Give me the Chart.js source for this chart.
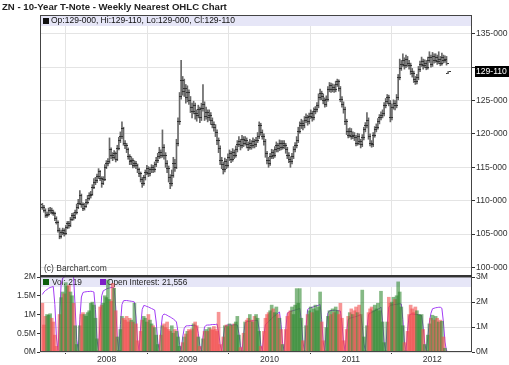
<!DOCTYPE html>
<html lang="en">
<head>
<meta charset="UTF-8">
<title>ZN - 10-Year T-Note - Weekly Nearest OHLC Chart</title>
<script src="https://cdn.jsdelivr.net/npm/chart.js@4.4.0/dist/chart.umd.min.js"></script>
<style>
  body { margin: 0; background: #fff; font-family: 'Liberation Sans', Arial, sans-serif; }
  #wrap { position: relative; width: 509px; height: 365px; overflow: hidden; }
  #title { position: absolute; left: 2px; top: 1px; font-size: 9.6px; font-weight: bold; color: #222; white-space: nowrap; }
  #priceChart { position: absolute; left: 0; top: 0; }
  #volChart { position: absolute; left: 0; top: 266px; }
</style>
</head>
<body>
<div id="wrap">
  <canvas id="priceChart" width="509" height="280"></canvas>
  <canvas id="volChart" width="509" height="99"></canvas>
  <div id="title">ZN - 10-Year T-Note - Weekly Nearest OHLC Chart</div>
</div>
<script>
// weekly bars, first one is the week of 2007-03-19
const FIRST_WEEK = '2007-03-19';
const yearTicks = [2008, 2009, 2010, 2011, 2012];
const priceTicks = [100, 105, 110, 115, 120, 125, 130, 135];
const volTicks = [0, 0.5, 1, 1.5, 2];   // millions, left axis
const oiTicks = [0, 1, 2, 3];           // millions, right axis

const opens = [
  109.4,109.0,108.6,107.8,107.9,108.5,108.6,108.3,108.1,107.3,
  106.8,105.6,104.7,105.2,105.6,105.1,106.0,106.6,106.3,107.2,
  107.8,107.5,108.2,109.0,109.6,110.8,109.4,108.8,109.2,109.8,
  110.4,110.8,111.0,112.0,112.8,113.0,113.6,114.3,113.3,112.6,
  113.2,115.0,115.5,115.8,117.6,116.8,116.5,117.0,116.2,117.8,
  119.0,119.6,120.8,118.6,118.2,117.6,116.6,115.8,116.0,115.3,
  115.6,115.2,114.6,114.0,113.2,112.6,113.4,114.2,114.8,114.0,
  114.6,115.0,114.6,115.4,116.0,116.6,117.2,116.8,118.0,116.8,
  115.6,114.8,113.4,112.6,113.8,115.6,115.0,118.6,121.8,125.6,
  128.0,126.4,126.8,125.4,126.2,125.0,124.0,123.4,124.2,123.0,
  122.8,123.6,122.4,123.8,124.4,122.6,123.2,122.4,122.8,122.0,
  121.4,121.0,120.2,119.0,117.8,116.0,115.4,114.6,115.8,115.2,
  116.4,117.0,116.2,117.2,116.8,117.6,118.4,118.8,118.2,119.2,
  118.6,119.0,118.4,118.0,118.6,118.2,118.8,118.4,119.0,119.6,
  121.2,120.2,119.6,118.8,117.0,116.0,115.6,116.6,117.2,116.8,
  117.6,118.2,117.8,118.6,118.0,118.6,118.2,117.6,116.8,116.2,
  115.8,116.6,117.6,118.2,119.0,120.4,121.2,121.6,121.2,122.0,
  122.4,121.8,122.6,123.0,122.4,123.4,123.6,124.2,125.4,126.0,
  125.6,125.0,124.4,125.2,126.6,127.2,126.6,127.0,126.6,127.4,
  127.8,126.8,125.2,124.4,123.6,121.8,120.4,119.8,120.4,119.6,
  119.8,119.4,118.6,119.6,118.8,118.4,119.4,120.6,121.2,122.0,
  119.6,118.6,118.4,119.8,120.6,121.0,121.8,122.4,122.8,123.0,
  124.2,124.8,125.4,124.6,122.4,124.0,124.6,124.2,125.4,128.4,
  129.8,130.4,131.0,130.2,131.2,130.6,130.2,129.4,129.0,128.2,
  127.8,128.4,129.6,130.4,130.8,130.2,130.6,130.0,131.0,131.4,
  130.4,131.6,131.0,131.4,130.8,131.2,130.6,131.4,131.0,131.2,
  129.0
];
const highs = [
  109.6,109.3,108.8,108.3,108.9,109.0,108.9,108.6,108.3,107.6,
  107.0,105.9,105.6,105.9,105.8,106.3,106.9,106.9,107.5,108.1,
  108.2,108.6,109.5,110.2,111.5,111.0,109.7,109.6,110.2,110.8,
  111.2,111.4,112.4,113.3,113.5,114.0,114.8,114.5,113.6,113.6,
  115.4,116.0,116.3,119.4,117.9,117.2,117.5,117.3,118.3,119.5,
  120.3,121.8,121.0,119.0,118.6,117.9,116.9,116.6,116.3,116.0,
  115.9,115.5,114.9,114.3,113.5,113.8,114.6,115.3,115.1,115.0,
  115.4,115.3,115.8,116.5,117.1,118.0,117.6,120.6,118.4,117.2,
  116.0,115.2,113.9,114.6,116.5,116.2,119.2,122.4,126.2,131.0,
  128.6,128.2,127.4,127.2,126.6,125.6,124.6,124.9,124.6,123.6,
  124.3,124.0,124.6,127.4,124.8,124.0,123.6,123.6,123.2,122.4,
  121.8,121.4,120.6,119.4,118.2,116.5,115.8,116.4,116.2,117.0,
  117.6,117.4,117.8,117.6,118.2,119.0,119.6,119.2,119.8,119.6,
  119.6,119.4,118.8,119.2,119.0,119.4,119.2,119.5,120.2,121.8,
  121.6,120.6,120.0,119.2,117.4,116.5,117.1,117.7,117.6,118.1,
  118.8,118.6,119.1,119.0,119.0,119.0,118.6,118.0,117.2,116.6,
  117.1,118.1,118.7,119.6,121.0,121.8,122.2,122.0,122.6,123.0,
  122.8,123.1,123.6,123.4,123.9,124.1,124.7,126.0,126.7,126.4,
  126.0,125.4,125.7,127.1,127.7,127.6,127.5,127.4,127.9,128.2,
  128.1,127.1,125.6,124.8,124.0,122.2,120.8,120.9,120.8,120.3,
  120.2,119.8,120.1,120.0,119.2,119.9,121.0,121.7,123.2,122.4,
  120.0,119.0,120.2,121.1,121.5,122.3,122.9,123.3,123.6,124.7,
  125.3,125.9,125.8,125.0,124.5,125.1,125.0,125.9,128.9,131.2,
  131.0,132.0,131.4,131.8,131.6,131.0,130.6,129.8,129.4,128.6,
  128.9,130.1,130.9,131.5,131.2,131.1,131.0,131.5,132.3,131.8,
  132.2,132.0,132.0,131.8,132.3,131.6,132.1,131.8,131.7,131.6,
  129.34375
];
const lows = [
  108.7,108.3,107.5,107.5,107.7,108.1,108.0,107.8,107.0,106.5,
  105.3,104.3,104.4,104.9,104.7,104.9,105.8,105.9,106.1,107.0,
  107.1,107.3,108.0,108.8,109.4,109.0,108.5,108.6,109.0,109.5,
  110.1,110.4,110.8,111.8,112.4,112.7,113.3,113.0,112.0,112.4,
  113.0,114.8,115.2,115.6,116.3,116.0,116.2,115.8,116.0,117.6,
  118.7,119.3,118.3,117.8,117.2,116.2,115.4,115.4,114.9,115.0,
  114.8,114.2,113.6,112.8,112.0,112.3,113.1,113.9,113.6,113.7,
  114.2,114.2,114.3,115.1,115.7,116.3,116.4,116.5,116.2,115.0,
  114.2,112.8,111.8,112.2,113.5,114.4,114.8,118.2,121.4,125.2,
  125.8,125.6,124.6,124.8,124.4,123.2,122.4,123.0,122.2,121.9,
  122.4,121.7,122.0,123.4,122.0,122.2,121.8,122.0,121.4,120.9,
  120.4,119.6,118.4,117.2,115.4,114.8,114.0,114.3,114.8,115.0,
  116.0,115.7,115.9,116.3,116.5,117.3,118.1,117.6,117.9,118.1,
  118.3,117.9,117.5,117.7,117.7,117.9,117.9,118.1,118.7,119.3,
  119.8,119.2,118.3,116.5,115.5,115.0,115.3,116.3,116.3,116.5,
  117.3,117.3,117.5,117.6,117.7,117.8,117.1,116.3,115.7,115.0,
  115.5,116.3,117.3,117.9,118.7,120.1,120.8,120.6,120.9,121.7,
  121.3,121.5,122.3,121.9,122.1,123.0,123.3,123.9,125.1,125.1,
  124.5,124.0,124.1,124.9,126.3,126.2,126.3,126.2,126.3,127.1,
  126.4,124.8,124.0,123.1,121.4,119.9,119.4,119.5,119.2,119.3,
  119.0,118.2,118.3,118.4,117.9,118.1,119.1,120.3,120.9,119.2,
  118.2,118.0,118.1,119.5,120.3,120.7,121.5,122.1,122.4,122.7,
  123.9,124.5,124.2,121.8,122.1,123.7,123.6,123.9,125.1,128.1,
  129.5,130.1,129.7,129.9,130.1,129.7,128.9,128.5,127.7,127.4,
  127.5,128.1,129.3,130.1,129.7,129.9,129.6,129.7,130.7,130.0,
  130.1,130.6,130.7,130.4,130.5,130.2,130.3,130.6,130.7,130.3,
  129.0
];
const closes = [
  109.0,108.6,107.8,107.9,108.5,108.6,108.3,108.1,107.3,106.8,
  105.6,104.7,105.2,105.6,105.1,106.0,106.6,106.3,107.2,107.8,
  107.5,108.2,109.0,109.6,110.8,109.4,108.8,109.2,109.8,110.4,
  110.8,111.0,112.0,112.8,113.0,113.6,114.3,113.3,112.6,113.2,
  115.0,115.5,115.8,117.6,116.8,116.5,117.0,116.2,117.8,119.0,
  119.6,120.8,118.6,118.2,117.6,116.6,115.8,116.0,115.3,115.6,
  115.2,114.6,114.0,113.2,112.6,113.4,114.2,114.8,114.0,114.6,
  115.0,114.6,115.4,116.0,116.6,117.2,116.8,118.0,116.8,115.6,
  114.8,113.4,112.6,113.8,115.6,115.0,118.6,121.8,125.6,128.0,
  126.4,126.8,125.4,126.2,125.0,124.0,123.4,124.2,123.0,122.8,
  123.6,122.4,123.8,124.4,122.6,123.2,122.4,122.8,122.0,121.4,
  121.0,120.2,119.0,117.8,116.0,115.4,114.6,115.8,115.2,116.4,
  117.0,116.2,117.2,116.8,117.6,118.4,118.8,118.2,119.2,118.6,
  119.0,118.4,118.0,118.6,118.2,118.8,118.4,119.0,119.6,121.2,
  120.2,119.6,118.8,117.0,116.0,115.6,116.6,117.2,116.8,117.6,
  118.2,117.8,118.6,118.0,118.6,118.2,117.6,116.8,116.2,115.8,
  116.6,117.6,118.2,119.0,120.4,121.2,121.6,121.2,122.0,122.4,
  121.8,122.6,123.0,122.4,123.4,123.6,124.2,125.4,126.0,125.6,
  125.0,124.4,125.2,126.6,127.2,126.6,127.0,126.6,127.4,127.8,
  126.8,125.2,124.4,123.6,121.8,120.4,119.8,120.4,119.6,119.8,
  119.4,118.6,119.6,118.8,118.4,119.4,120.6,121.2,122.0,119.6,
  118.6,118.4,119.8,120.6,121.0,121.8,122.4,122.8,123.0,124.2,
  124.8,125.4,124.6,122.4,124.0,124.6,124.2,125.4,128.4,129.8,
  130.4,131.0,130.2,131.2,130.6,130.2,129.4,129.0,128.2,127.8,
  128.4,129.6,130.4,130.8,130.2,130.6,130.0,131.0,131.4,130.4,
  131.6,131.0,131.4,130.8,131.2,130.6,131.4,131.0,131.2,130.6,
  129.34375
];
// volume, millions of contracts (one row per nearest contract)
const volumes = [
  1.30,0.72,0.95,1.00,0.98,1.02,0.90,0.80,0.45,0.15,0.03,
  1.00,1.45,1.60,1.55,1.85,1.75,1.78,1.60,1.50,1.30,0.70,0.20,0.03,
  0.70,1.00,1.05,1.00,0.95,1.05,1.10,1.30,1.33,1.25,0.90,0.35,0.03,
  1.20,1.25,1.30,1.50,1.45,1.92,1.40,1.35,1.83,1.70,1.10,0.40,0.04,
  0.60,0.95,0.90,0.85,0.95,0.80,0.90,0.85,0.80,1.30,0.75,0.30,0.03,
  0.55,0.85,0.95,0.90,0.80,1.00,0.85,0.75,0.70,0.65,0.45,0.20,0.03,
  0.45,0.70,0.75,0.65,0.80,0.60,0.55,0.70,0.50,0.60,0.55,0.40,0.15,0.03,
  0.25,0.40,0.48,0.55,0.60,0.57,0.62,0.75,0.80,0.70,0.40,0.15,0.03,
  0.35,0.55,0.60,0.55,0.65,0.62,0.58,0.68,0.60,0.55,1.06,0.20,0.03,
  0.40,0.70,0.72,0.68,0.75,0.70,0.72,0.75,0.80,0.95,0.45,0.12,0.03,
  0.50,0.80,0.85,0.90,1.00,0.85,0.80,0.95,1.00,0.90,0.55,0.15,0.03,
  0.55,0.90,1.00,1.05,1.10,1.25,1.15,1.05,1.20,1.00,0.90,0.60,0.20,0.03,
  0.60,0.95,1.05,1.10,1.20,1.00,1.25,1.69,1.30,1.69,0.90,0.30,0.03,
  0.70,1.00,1.10,1.20,1.05,1.15,1.25,1.10,1.20,1.60,0.80,0.30,0.03,
  0.65,0.95,1.10,1.00,1.15,1.05,1.20,1.10,1.00,1.30,0.90,0.30,0.03,
  0.60,0.95,1.05,1.15,1.00,1.10,1.20,1.05,1.25,1.00,1.65,0.40,0.03,
  0.70,1.05,1.15,1.20,1.10,1.25,1.15,1.30,1.10,1.62,0.80,0.25,0.03,
  0.80,1.46,1.30,1.33,1.46,1.40,1.50,1.87,1.60,1.20,0.70,0.25,0.03,
  0.55,1.00,1.25,1.15,1.05,1.20,1.10,1.00,0.98,1.00,0.60,0.20,0.03,
  0.45,0.75,0.90,0.98,0.85,0.95,0.90,0.80,0.85,0.82,0.40,0.10,0.02,0.000219
];
// open interest, millions of contracts
const openInterest = [
  2.30,2.40,2.46,2.50,2.55,2.58,2.60,2.62,1.90,0.60,0.06,
  1.40,2.70,2.95,3.00,3.02,3.05,3.05,3.08,3.05,3.00,1.80,0.50,0.06,
  1.30,2.20,2.38,2.40,2.41,2.42,2.42,2.43,2.42,2.40,1.70,0.50,0.06,
  1.30,2.25,2.45,2.48,2.52,2.55,2.56,2.58,2.58,2.55,1.80,0.55,0.06,
  1.10,1.90,2.05,2.06,2.06,2.05,2.04,2.03,2.02,2.00,1.40,0.45,0.05,
  1.00,1.70,1.86,1.85,1.82,1.80,1.77,1.74,1.71,1.68,1.20,0.40,0.05,
  0.90,1.45,1.52,1.50,1.47,1.43,1.40,1.36,1.32,1.27,1.20,0.80,0.30,0.05,
  0.60,0.95,1.04,1.05,1.05,1.06,1.06,1.05,1.05,1.04,0.75,0.25,0.04,
  0.60,1.00,1.07,1.08,1.08,1.09,1.10,1.10,1.10,1.12,0.80,0.30,0.04,
  0.60,1.00,1.07,1.08,1.08,1.08,1.08,1.09,1.09,1.08,0.75,0.25,0.04,
  0.70,1.15,1.22,1.22,1.23,1.24,1.25,1.25,1.26,1.27,0.90,0.30,0.04,
  0.70,1.10,1.15,1.22,1.28,1.34,1.40,1.45,1.50,1.55,1.60,1.10,0.35,0.04,
  0.90,1.55,1.60,1.62,1.64,1.66,1.68,1.70,1.72,1.75,1.20,0.40,0.04,
  1.00,1.70,1.75,1.77,1.79,1.81,1.83,1.85,1.87,1.90,1.30,0.40,0.04,
  0.95,1.55,1.65,1.66,1.66,1.67,1.67,1.66,1.65,1.64,1.15,0.40,0.04,
  0.80,1.30,1.35,1.37,1.39,1.40,1.42,1.44,1.46,1.50,1.05,0.35,0.04,
  0.90,1.50,1.55,1.58,1.62,1.65,1.68,1.71,1.74,1.80,1.25,0.40,0.04,
  1.05,1.80,1.87,1.88,1.89,1.90,1.91,1.92,1.93,1.92,1.30,0.40,0.04,
  0.85,1.45,1.52,1.52,1.51,1.50,1.50,1.49,1.48,1.46,1.00,0.35,0.04,
  0.60,1.20,1.55,1.73,1.75,1.77,1.78,1.79,1.79,1.75,1.20,0.40,0.03,0.021556
];

const X_MIN = 2007.182, X_MAX = 2012.4875;
const PRICE_MIN = 98.58, PRICE_MAX = 137.8;
const GRID = '#e4e4e4';
const AXIS = '#333';
const BAND = '#e6e6f7';

function decYear(d) {
  const y = d.getUTCFullYear();
  const a = Date.UTC(y, 0, 1), b = Date.UTC(y + 1, 0, 1);
  return y + (d.getTime() - a) / (b - a);
}
const t0 = new Date(FIRST_WEEK + 'T00:00:00Z').getTime();
const weekX = closes.map((_, i) => decYear(new Date(t0 + i * 7 * 864e5)));
const last = closes.length - 1;

// 129.34375 -> "129-110" (32nds and tenths)
function fmt32(v) {
  const w = Math.floor(v + 1e-9);
  const t = Math.round((v - w) * 320);
  return w + '-' + String(t).padStart(3, '0');
}

// little open/close ticks used as point images
function tickImg(side) {
  const c = document.createElement('canvas');
  c.width = 5; c.height = 1;
  const g = c.getContext('2d');
  g.fillStyle = '#333';
  g.fillRect(side < 0 ? 0 : 3, 0, 2, 1);
  return c;
}

Chart.defaults.font.family = "'Liberation Sans', Arial, sans-serif";
Chart.defaults.font.size = 8.6;
Chart.defaults.color = AXIS;

const yearAxis = {
  type: 'linear', min: X_MIN, max: X_MAX, offset: false,
  afterBuildTicks: s => { s.ticks = yearTicks.map(v => ({ value: v })); }
};

const pricePanel = {
  id: 'pricePanel',
  beforeDatasetsDraw(chart) {
    const { ctx, chartArea: a } = chart;
    ctx.save();
    ctx.fillStyle = BAND;
    ctx.fillRect(a.left, a.top, a.right - a.left, 11);
    ctx.fillStyle = '#111';
    ctx.fillRect(a.left + 3, a.top + 3, 6, 6);
    ctx.font = "8.5px 'Liberation Sans', Arial, sans-serif";
    ctx.textBaseline = 'middle';
    ctx.fillText('Op:' + fmt32(opens[last]) + ', Hi:' + fmt32(highs[last]) +
      ', Lo:' + fmt32(lows[last]) + ', Cl:' + fmt32(closes[last]), a.left + 11, a.top + 6);
    ctx.fillStyle = '#333';
    ctx.fillText('(c) Barchart.com', a.left + 4, a.bottom - 8);
    ctx.restore();
  },
  afterDraw(chart) {
    const { ctx, chartArea: a } = chart;
    ctx.save();
    ctx.strokeStyle = '#444';
    ctx.lineWidth = 1;
    ctx.strokeRect(a.left + 0.5, a.top + 0.5, a.right - a.left - 1, a.bottom - a.top);
    // last price marker
    const y = Math.round(chart.scales.y.getPixelForValue(closes[last]));
    ctx.fillStyle = '#000';
    ctx.fillRect(a.right + 3, y - 5, 34, 11);
    ctx.fillStyle = '#fff';
    ctx.font = "8.6px 'Liberation Sans', Arial, sans-serif";
    ctx.textBaseline = 'middle';
    ctx.fillText(fmt32(closes[last]), a.right + 4, y + 0.5);
    ctx.restore();
  }
};

new Chart(document.getElementById('priceChart'), {
  type: 'bar',
  data: {
    datasets: [
      {
        label: 'High-Low',
        data: weekX.map((x, i) => ({ x, y: [lows[i], highs[i]] })),
        backgroundColor: '#686868',
        barThickness: 1,
        order: 2
      },
      {
        type: 'scatter', label: 'Open',
        data: weekX.map((x, i) => ({ x, y: opens[i] })),
        pointStyle: tickImg(-1), pointRadius: 2, pointHoverRadius: 2,
        order: 1
      },
      {
        type: 'scatter', label: 'Close',
        data: weekX.map((x, i) => ({ x, y: closes[i] })),
        pointStyle: tickImg(1), pointRadius: 2, pointHoverRadius: 2,
        order: 1
      }
    ]
  },
  options: {
    responsive: false,
    animation: false,
    events: [],
    layout: { padding: { left: 40, top: 15, right: 0, bottom: 0 } },
    plugins: { legend: { display: false }, tooltip: { enabled: false } },
    scales: {
      x: Object.assign({}, yearAxis, {
        grid: { color: GRID, drawTicks: false },
        border: { display: false },
        ticks: { display: false },
        afterFit: s => { s.height = 0; s.paddingLeft = 0; s.paddingRight = 0; }
      }),
      y: {
        position: 'right', min: PRICE_MIN, max: PRICE_MAX,
        grid: { color: GRID, tickColor: AXIS, tickLength: 3 },
        border: { display: false },
        ticks: {
          padding: 1,
          callback: v => Math.abs(v - closes[last]) < 1.5 ? '' : fmt32(v)
        },
        afterBuildTicks: s => { s.ticks = priceTicks.map(v => ({ value: v })); },
        afterFit: s => { s.width = 37; s.paddingTop = 0; s.paddingBottom = 0; }
      }
    }
  },
  plugins: [pricePanel]
});

const volPanel = {
  id: 'volPanel',
  beforeDatasetsDraw(chart) {
    const { ctx, chartArea: a } = chart;
    ctx.save();
    ctx.fillStyle = BAND;
    ctx.fillRect(a.left, a.top, a.right - a.left, 10);
    ctx.font = "8.3px 'Liberation Sans', Arial, sans-serif";
    ctx.textBaseline = 'middle';
    ctx.fillStyle = '#0b5d0b';
    ctx.fillRect(a.left + 3, a.top + 2, 6, 6);
    ctx.fillStyle = '#222';
    ctx.fillText('Vol: ' + Math.round(volumes[last] * 1e6).toLocaleString('en-US'), a.left + 12, a.top + 5.5);
    ctx.fillStyle = '#7d1fc7';
    ctx.fillRect(a.left + 60, a.top + 2, 6, 6);
    ctx.fillStyle = '#222';
    ctx.fillText('Open Interest: ' + Math.round(openInterest[last] * 1e6).toLocaleString('en-US'), a.left + 67, a.top + 5.5);
    ctx.restore();
  },
  afterDraw(chart) {
    const { ctx, chartArea: a } = chart;
    ctx.save();
    ctx.strokeStyle = '#444';
    ctx.lineWidth = 1;
    ctx.strokeRect(a.left + 0.5, a.top, a.right - a.left - 1, a.bottom - a.top - 0.5);
    // heavy separator between the two panels
    ctx.fillStyle = '#333';
    ctx.fillRect(a.left, a.top - 2, a.right - a.left, 2);
    ctx.restore();
  }
};

new Chart(document.getElementById('volChart'), {
  type: 'bar',
  data: {
    datasets: [
      {
        label: 'Vol',
        yAxisID: 'yVol',
        data: weekX.map((x, i) => ({ x, y: volumes[i] })),
        backgroundColor: closes.map((c, i) => c >= opens[i] ? 'rgba(45,135,45,0.58)' : 'rgba(242,72,72,0.58)'),
        barThickness: 3,
        order: 0
      },
      {
        type: 'line',
        label: 'Open Interest',
        yAxisID: 'yOI',
        data: weekX.map((x, i) => ({ x, y: openInterest[i] })),
        borderColor: '#a23cf5',
        borderWidth: 1,
        pointRadius: 0,
        tension: 0,
        order: 1
      }
    ]
  },
  options: {
    responsive: false,
    animation: false,
    events: [],
    layout: { padding: { left: 0, top: 11, right: 0, bottom: 0 } },
    plugins: { legend: { display: false }, tooltip: { enabled: false } },
    scales: {
      x: Object.assign({}, yearAxis, {
        grid: { color: GRID, tickColor: AXIS, tickLength: 2 },
        border: { display: false },
        ticks: { padding: 0, maxRotation: 0, callback: v => String(v) },
        afterFit: s => { s.height = 13; s.paddingLeft = 0; s.paddingRight = 0; }
      }),
      yVol: {
        position: 'left', min: 0, max: 2,
        grid: { drawOnChartArea: false, tickColor: AXIS, tickLength: 3 },
        border: { display: false },
        ticks: { padding: 1, callback: v => v + 'M' },
        afterBuildTicks: s => { s.ticks = volTicks.map(v => ({ value: v })); },
        afterFit: s => { s.width = 40; s.paddingTop = 0; s.paddingBottom = 0; }
      },
      yOI: {
        position: 'right', min: 0, max: 3,
        grid: { color: GRID, tickColor: AXIS, tickLength: 3 },
        border: { display: false },
        ticks: { padding: 1, callback: v => v + 'M' },
        afterBuildTicks: s => { s.ticks = oiTicks.map(v => ({ value: v })); },
        afterFit: s => { s.width = 37; s.paddingTop = 0; s.paddingBottom = 0; }
      }
    }
  },
  plugins: [volPanel]
});
</script>
</body>
</html>
